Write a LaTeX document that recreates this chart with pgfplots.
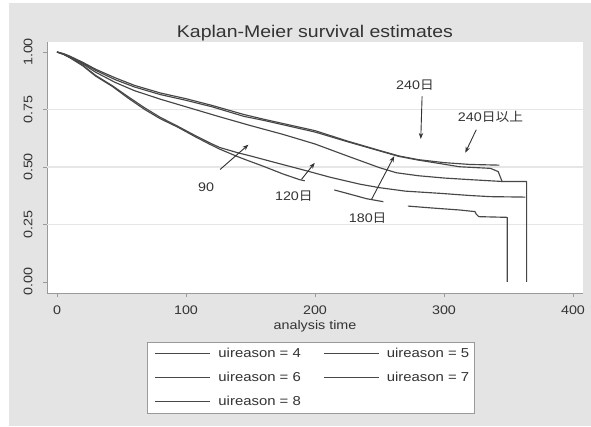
\documentclass[border=0pt]{standalone}
\usepackage{fontspec}
\setmainfont{Liberation Sans}[FakeStretch=1.15]
\newfontfamily\cjk{Noto Sans CJK JP}[FakeStretch=1.1]
\usepackage{pgfplots}
\pgfplotsset{compat=1.18}
\usetikzlibrary{arrows.meta}

\definecolor{bgray}{HTML}{E4E4E4}
\definecolor{kmline}{HTML}{474747}
\definecolor{axcol}{HTML}{9A9A9A}
\definecolor{gridc}{HTML}{E6E6E6}
\definecolor{labc}{HTML}{333333}

\begin{document}
\begin{tikzpicture}[x=1bp,y=1bp]
\path[use as bounding box] (0,0) rectangle (591,426);
\fill[white] (0,0) rectangle (591,426);
\fill[bgray] (9,0) rectangle (591,423);
\begin{axis}[
    at={(47bp,133bp)}, anchor=south west,
    scale only axis, width=536bp, height=251bp,
    xmin=-7.75, xmax=407.75, ymin=-0.048, ymax=1.0435,
    axis background/.style={fill=white},
    axis x line*=bottom, axis y line*=left,
    axis line style={draw=axcol, line width=0.9bp},
    tick align=outside, major tick length=4bp,
    tick style={draw=axcol, line width=0.9bp},
    xtick pos=left, ytick pos=left,
    xtick={0,100,200,300,400},
    xticklabels={0,100,200,300,400},
    ytick={0,0.25,0.5,0.75,1},
    yticklabels={0.00,0.25,0.50,0.75,1.00},
    extra y ticks={0.25,0.5,0.75},
    extra y tick labels={},
    extra y tick style={grid=major, major tick length=0pt},
    major grid style={draw=gridc, line width=1.4bp},
    ticklabel style={font=\fontsize{12.5}{15}\selectfont, text=labc},
    yticklabel style={xshift=-7bp, rotate=90, anchor=south},
    xticklabel style={yshift=-5bp},
    title={Kaplan-Meier survival estimates},
    title style={font=\fontsize{17}{20}\selectfont, text=labc, yshift=-9bp},
    xlabel={analysis time},
    xlabel style={font=\fontsize{12.5}{15}\selectfont, text=labc, yshift=1bp},
    legend columns=2,
    legend cell align=left,
    legend image code/.code={\path[draw=none] (0bp,0bp) -- (66bp,0bp); \draw[#1] (5bp,0bp) -- (60bp,0bp);},
    legend style={at={(axis description cs:0.1866,-0.195)}, anchor=north west,
        draw=axcol, line width=0.9bp, fill=white, text=labc,
        font=\fontsize{13}{15}\selectfont, row sep=9bp, inner ysep=4bp,
        /tikz/every even column/.append style={column sep=16bp}},
    km/.style={draw=kmline, line width=1.15bp, line join=round, mark=none},
]
% uireason = 4 (lowest, parts hidden behind the labels)
\addplot[km] coordinates {
(0,1) (5,0.99) (10,0.975) (20,0.94) (30,0.895) (43,0.85) (55,0.80) (68,0.75)
(80,0.71) (94,0.672) (107,0.632) (118,0.60) (126,0.578) (140,0.545) (147,0.53)
(160,0.503) (175,0.47) (188,0.445) (192,0.44)
};
\addlegendentry{uireason = 4}
% uireason = 5
\addplot[km] coordinates {
(0,1) (5,0.99) (10,0.976) (20,0.942) (30,0.898) (43,0.853) (55,0.806) (68,0.757)
(80,0.716) (94,0.676) (107,0.637) (118,0.606) (126,0.585) (140,0.562) (150,0.548)
(170,0.518) (191,0.487) (212,0.455) (235,0.425) (250,0.41) (270,0.395)
(298,0.385) (320,0.376) (336,0.371) (363,0.369)
};
\addlegendentry{uireason = 5}
% uireason = 6
\addplot[km] coordinates {
(0,1) (5,0.99) (10,0.978) (20,0.948) (30,0.912) (45,0.868) (60,0.832) (80,0.795)
(95,0.77) (110,0.745) (125,0.72) (150,0.68) (175,0.642) (200,0.60) (225,0.548)
(250,0.497) (263,0.475) (280,0.462) (300,0.452) (320,0.445) (345,0.437)
};
\addlegendentry{uireason = 6}
% uireason = 7
\addplot[km] coordinates {
(0,1) (5,0.992) (10,0.98) (20,0.952) (30,0.92) (45,0.88) (60,0.848) (80,0.815)
(100,0.79) (120,0.762) (145,0.72) (160,0.703) (200,0.652) (225,0.61) (250,0.57)
(265,0.546) (280,0.53) (300,0.512) (312,0.501) (336,0.494) (342,0.48) (345,0.437)
(364,0.437) (364,0)
};
\addlegendentry{uireason = 7}
% uireason = 8
\addplot[km] coordinates {
(0,1) (5,0.993) (10,0.982) (20,0.955) (30,0.925) (45,0.888) (60,0.855) (80,0.822)
(100,0.797) (120,0.768) (145,0.728) (160,0.708) (200,0.658) (225,0.613) (250,0.572)
(265,0.548) (280,0.532) (300,0.519) (320,0.511) (343,0.508)
};
\addlegendentry{uireason = 8}
% rest of uireason = 4
\addplot[km, forget plot] coordinates {
(215,0.40) (225,0.385) (240,0.362) (253,0.349)
};
\addplot[km, forget plot] coordinates {
(272,0.330) (290,0.322) (312,0.313) (324,0.306) (325,0.295) (327,0.284)
(349,0.281) (349,0)
};

% hand-drawn annotations
\begin{scope}[labc, line width=0.9bp, -{Stealth[length=6bp,width=4.5bp]},
    every node/.style={font=\fontsize{12.5}{15}\selectfont, text=labc}]
\draw (axis cs:126.4,0.489) -- (axis cs:148.4,0.597);
\draw (axis cs:189.5,0.446) -- (axis cs:199.8,0.518);
\draw (axis cs:243.8,0.359) -- (axis cs:261.4,0.547);
\draw (axis cs:283,0.807) -- (axis cs:282,0.622);
\draw (axis cs:325,0.662) -- (axis cs:316.5,0.562);
\node at (axis cs:115.6,0.41) {90};
\node at (axis cs:183.6,0.374) {120{\cjk 日}};
\node at (axis cs:240.8,0.277) {180{\cjk 日}};
\node at (axis cs:277.5,0.857) {240{\cjk 日}};
\node at (axis cs:336,0.716) {240{\cjk 日以上}};
\end{scope}
\end{axis}
\end{tikzpicture}
\end{document}
